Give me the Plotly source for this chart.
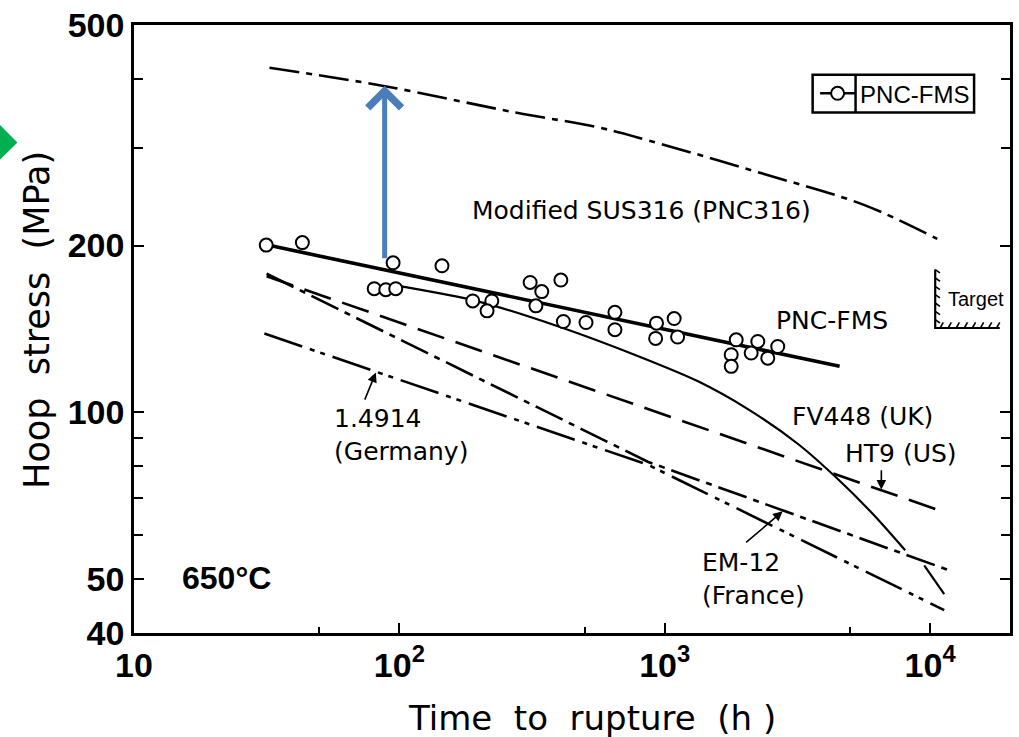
import numpy as np
import plotly.graph_objects as go

# ---------------------------------------------------------------
# Creep rupture strength at 650 °C: PNC-FMS vs. reference steels
# ---------------------------------------------------------------

# PNC-FMS measured rupture points (time in h, hoop stress in MPa)
fms_time = [31.5, 43.1, 94.7, 144.7, 80.4, 88.9, 96.9, 189, 223, 214,
            311, 344, 327, 406, 415, 505, 649, 649, 931, 1085,
            924, 1118, 1859, 2242, 1780, 2117, 1780, 2445, 2666]
fms_stress = [200.4, 202.5, 186.2, 183.9, 167.2, 166.5, 167.2, 158.9, 158.9, 152.5,
              171.6, 165.2, 155.7, 173.3, 145.9, 145.3, 151.6, 141.0, 144.9, 147.7,
              136.0, 136.8, 135.2, 134.3, 127.1, 128.0, 121.1, 125.3, 131.5]

# PNC-FMS regression line
fms_fit_time = [31.6, 4560]
fms_fit_stress = [200.6, 121.1]

# Modified SUS316 (PNC316)
pnc316_time = [32.4, 86.1, 274, 562, 867, 2383, 5660, 10640]
pnc316_stress = [418.6, 388.6, 347.6, 326.8, 309.6, 269.0, 236.6, 205.6]

# FV448 (UK) and its extrapolated tail
fv448_time = [98, 199, 398, 795, 1335, 2057, 3170, 4479, 6062, 8054]
fv448_stress = [169.3, 158.5, 142.9, 126.3, 113.8, 101.4, 87.8, 75.9, 65.7, 56.4]
fv448_ext_time = [9500, 11300]
fv448_ext_stress = [53.0, 47.0]

# HT9 (US)
ht9_time = [31.6, 11400]
ht9_stress = [176.0, 66.0]

# EM-12 (France)
em12_time = [31.6, 867, 11800]
em12_stress = [177.9, 81.4, 51.9]

# 1.4914 (Germany)
g14914_time = [31.0, 867, 11300]
g14914_stress = [138.8, 80.4, 44.0]

# Design target
target_time = 10450
target_stress = 142
target_top = 181
target_end = 18300

# Strength gain at ~90 h (PNC-FMS -> PNC316)
gain_time = 88
gain_from = 188.5
gain_to = 388.6

# Axis ticks
x_tickvals = [10, 100, 1000, 10000]
x_ticktext = ["10", "10<sup>2</sup>", "10<sup>3</sup>", "10<sup>4</sup>"]
x_minor = [50, 500, 5000]
y_tickvals = [40, 50, 100, 200, 500]
y_ticktext = ["40", "50", "100", "200", "500"]
y_minor = [60, 70, 80, 90, 300, 400]

# Curve labels: text, time, stress, anchor
label_text = ["Modified SUS316 (PNC316)", "PNC-FMS", "FV448 (UK)", "HT9 (US)",
              "1.4914<br>(Germany)", "EM-12<br>(France)"]
label_time = [815, 4253, 5560, 7790, 55.9, 1358]
label_stress = [231.8, 146.5, 98.5, 84.2, 91.1, 50.1]
label_anchor = ["center", "center", "center", "center", "left", "left"]

# Leader arrows: (tip time, tip stress, tail time, tail stress)
leaders = [(81.5, 118.0, 73.7, 104.8),
           (2783, 66.3, 2000, 58.0),
           (6550, 72.6, 6550, 79.1)]

BLACK = "black"
LABEL_FONT = dict(family="DejaVu Sans", size=25, color=BLACK)
TICK_FONT = dict(family="Liberation Sans Narrow, Liberation Sans, Arial", size=34,
                 color=BLACK, weight="bold")
TITLE_FONT = dict(family="DejaVu Sans", size=34, color=BLACK)

fig = go.Figure()

dashdot = "30px,7px,6px,7px"

fig.add_trace(go.Scatter(x=pnc316_time, y=pnc316_stress, mode="lines",
                         line=dict(color=BLACK, width=2.6, dash=dashdot, shape="spline"),
                         showlegend=False, hoverinfo="skip"))
fig.add_trace(go.Scatter(x=ht9_time, y=ht9_stress, mode="lines",
                         line=dict(color=BLACK, width=2.6, dash="28px,12px"),
                         showlegend=False, hoverinfo="skip"))
fig.add_trace(go.Scatter(x=em12_time, y=em12_stress, mode="lines",
                         line=dict(color=BLACK, width=2.6, dash=dashdot),
                         showlegend=False, hoverinfo="skip"))
fig.add_trace(go.Scatter(x=g14914_time, y=g14914_stress, mode="lines",
                         line=dict(color=BLACK, width=2.6, dash="40px,8px,5px,6px,5px,8px"),
                         showlegend=False, hoverinfo="skip"))
fig.add_trace(go.Scatter(x=fv448_time, y=fv448_stress, mode="lines",
                         line=dict(color=BLACK, width=2.2, shape="spline", smoothing=0.8),
                         showlegend=False, hoverinfo="skip"))
fig.add_trace(go.Scatter(x=fv448_ext_time, y=fv448_ext_stress, mode="lines",
                         line=dict(color=BLACK, width=2.2),
                         showlegend=False, hoverinfo="skip"))
fig.add_trace(go.Scatter(x=fms_fit_time, y=fms_fit_stress, mode="lines",
                         line=dict(color=BLACK, width=3.6),
                         showlegend=False, hoverinfo="skip"))
fig.add_trace(go.Scatter(x=fms_time, y=fms_stress, mode="markers",
                         marker=dict(symbol="circle", size=13, color="white",
                                     line=dict(color=BLACK, width=2)),
                         showlegend=False, hoverinfo="skip"))

# Legend entry (line with open circle)
fig.add_trace(go.Scatter(x=[None], y=[None], mode="lines+markers", name="PNC-FMS",
                         line=dict(color=BLACK, width=2.6),
                         marker=dict(symbol="circle", size=13, color="white",
                                     line=dict(color=BLACK, width=2))))

# Target symbol: hatched corner
hx, hy = [target_time, target_time, target_end], [target_top, target_stress, target_stress]
fig.add_trace(go.Scatter(x=hx, y=hy, mode="lines", line=dict(color=BLACK, width=2.2),
                         showlegend=False, hoverinfo="skip"))
hatch_x, hatch_y = [], []
for s in np.geomspace(target_top, target_stress, 8)[:-1]:
    hatch_x += [target_time, target_time * 10 ** 0.018, None]
    hatch_y += [s, s / 10 ** 0.006, None]
for t in np.geomspace(target_time, target_end, 9)[1:]:
    hatch_x += [t / 10 ** 0.012, t, None]
    hatch_y += [target_stress, target_stress * 10 ** 0.010, None]
fig.add_trace(go.Scatter(x=hatch_x, y=hatch_y, mode="lines",
                         line=dict(color=BLACK, width=1.6),
                         showlegend=False, hoverinfo="skip"))
fig.add_annotation(x=np.log10(14900), y=np.log10(160.4), text="Target", showarrow=False,
                   font=dict(family="Liberation Sans Narrow, Liberation Sans", size=20, color=BLACK))

# Curve labels
for txt, t, s, anc in zip(label_text, label_time, label_stress, label_anchor):
    fig.add_annotation(x=np.log10(t), y=np.log10(s), text=txt, showarrow=False,
                       xanchor=anc, yanchor="middle", align=anc,
                       font=LABEL_FONT)

fig.add_annotation(x=np.log10(14.9), y=np.log10(50.2), text="650°C", showarrow=False,
                   xanchor="left", yanchor="middle",
                   font=dict(family="Liberation Sans Narrow, Liberation Sans", size=32,
                             color=BLACK, weight="bold"))

for tip_t, tip_s, tail_t, tail_s in leaders:
    fig.add_annotation(x=np.log10(tip_t), y=np.log10(tip_s),
                       ax=np.log10(tail_t), ay=np.log10(tail_s),
                       xref="x", yref="y", axref="x", ayref="y", text="",
                       showarrow=True, arrowhead=2, arrowsize=1.2, arrowwidth=1.6,
                       arrowcolor=BLACK)

# Blue arrow marking the strength gap
fig.add_annotation(x=np.log10(gain_time), y=np.log10(gain_to),
                   ax=np.log10(gain_time), ay=np.log10(gain_from),
                   xref="x", yref="y", axref="x", ayref="y", text="",
                   showarrow=True, arrowhead=4, arrowsize=1.3, arrowwidth=5,
                   arrowcolor="#4a7ebb")

# Axis titles
fig.add_annotation(xref="paper", yref="paper", x=0.523, y=-0.139,
                   xanchor="center", yanchor="middle",
                   text="Time\u00a0 to\u00a0 rupture\u00a0 (h )", showarrow=False,
                   font=TITLE_FONT)
fig.add_annotation(xref="paper", yref="paper", x=-0.1115, y=0.5155,
                   xanchor="center", yanchor="middle",
                   text="Hoop\u00a0 stress\u00a0 (MPa)", showarrow=False, textangle=-90,
                   font=dict(family="DejaVu Sans", size=35, color=BLACK))

# Legend frame with divider between symbol and name
fig.add_shape(type="rect", xref="paper", yref="paper", x0=0.7747, x1=0.959,
              y0=0.856, y1=0.9182, layer="above", fillcolor="white",
              line=dict(color=BLACK, width=2.5))
fig.add_shape(type="line", xref="paper", yref="paper", x0=0.8237, x1=0.8237,
              y0=0.856, y1=0.9182, layer="above", line=dict(color=BLACK, width=2.5))

# Slide marker
fig.add_shape(type="path", xref="paper", yref="paper",
              path="M -0.1331 0.8069 L -0.1593 0.8445 L -0.1854 0.8069 L -0.1593 0.7692 Z",
              fillcolor="#00b050", line=dict(width=0))

axis_common = dict(showgrid=False, zeroline=False, showline=True, linecolor=BLACK,
                   linewidth=2.5, ticks="inside", tickcolor=BLACK, tickwidth=2,
                   tickfont=TICK_FONT)

fig.update_xaxes(type="log", range=[1, np.log10(2e4)], tickvals=x_tickvals,
                 ticktext=x_ticktext, ticklen=10, mirror=True,
                 minor=dict(tickvals=x_minor, ticks="inside", ticklen=6,
                            tickwidth=2, tickcolor=BLACK, showgrid=False),
                 **axis_common)
fig.update_yaxes(type="log", range=[np.log10(40), np.log10(500)], tickvals=y_tickvals,
                 ticktext=y_ticktext, ticklen=10, mirror="ticks",
                 minor=dict(tickvals=y_minor, ticks="inside", ticklen=9,
                            tickwidth=2, tickcolor=BLACK, showgrid=False),
                 **axis_common)

fig.update_layout(
    width=1019, height=737,
    margin=dict(l=134, r=6, t=22, b=104),
    paper_bgcolor="white", plot_bgcolor="white",
    legend=dict(x=0.7775, y=0.887, xanchor="left", yanchor="middle",
                borderwidth=0, bgcolor="rgba(0,0,0,0)",
                itemwidth=35, tracegroupgap=0,
                font=dict(family="Liberation Sans", size=24, color=BLACK)),
)

fig.write_html("out.html")
